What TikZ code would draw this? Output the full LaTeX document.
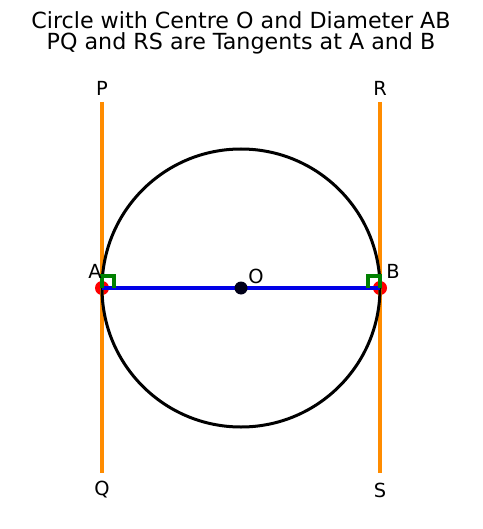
\documentclass[tikz,border=0pt]{standalone}
\usepackage{fontspec}
\setmainfont{DejaVu Sans}
\definecolor{tanorange}{RGB}{255,140,0}
\definecolor{mgreen}{RGB}{0,128,0}
\definecolor{mblue}{RGB}{0,0,230}
\begin{document}
\begin{tikzpicture}[x=1pt,y=-1pt,
  titletext/.style={font=\fontsize{22.2}{26}\selectfont, anchor=center, inner sep=0pt},
  lbl/.style={font=\fontsize{19.4}{22}\selectfont, anchor=center, inner sep=0pt},
  tangent/.style={draw=tanorange, line width=3.1pt},
  circ/.style={draw=black, line width=3.0pt},
  diam/.style={draw=mblue, line width=3.1pt},
  rightang/.style={draw=mgreen, line width=3.1pt},
  ptdot/.style={circle, fill=red, inner sep=0pt, minimum size=14pt},
  cdot/.style={circle, fill=black!90!blue, inner sep=0pt, minimum size=13pt}]
\path[use as bounding box] (0,0) rectangle (482,529);
\node[titletext] (t1) at (241,20) {Circle with Centre O and Diameter AB};
\node[titletext] (t2) at (241,43) {PQ and RS are Tangents at A and B};

\coordinate (A) at (102,288);
\coordinate (B) at (380,288);
\coordinate (O) at (241,288);
\coordinate (Pt) at (102,102);
\coordinate (Qt) at (102,473);
\coordinate (Rt) at (380,102);
\coordinate (St) at (380,473);

\node[ptdot] (dA) at (A) {};
\node[ptdot] (dB) at (B) {};
\draw[tangent] (Pt) -- (Qt);
\draw[tangent] (Rt) -- (St);
\draw[circ] (O) circle (139);
\draw[diam] (A) -- (B);
\draw[rightang] (A) -- ++(0,-12) -- ++(12,0) -- ++(0,12);
\draw[rightang] (B) -- ++(0,-12) -- ++(-12,0) -- ++(0,12);
\node[cdot] (dO) at (O) {};

\node[lbl] (P) at (102,88) {P};
\node[lbl] (Q) at (102,490) {Q};
\node[lbl] (R) at (380,88) {R};
\node[lbl] (S) at (380,490) {S};
\node[lbl] (la) at (95,271) {A};
\node[lbl] (lb) at (393,271) {B};
\node[lbl] (lo) at (256,276) {O};
\end{tikzpicture}
\end{document}
